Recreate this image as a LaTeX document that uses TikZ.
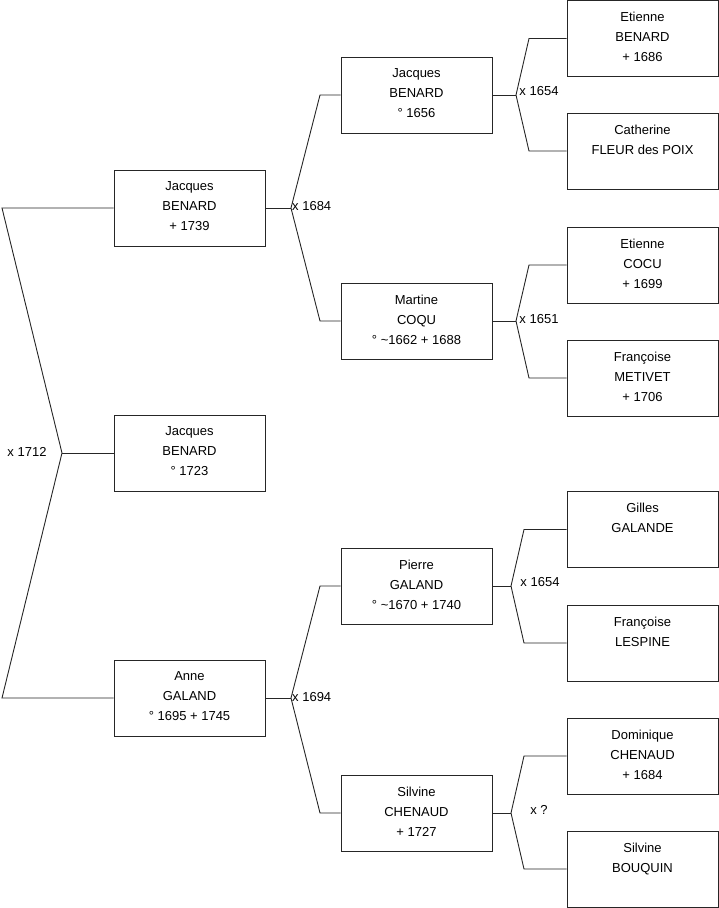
\documentclass[tikz,border=0pt]{standalone}
\usepackage{fontspec}
\setmainfont{Liberation Sans}
\begin{document}
\begin{tikzpicture}[x=1pt,y=-1pt,
  pbox/.style={draw=black!85,line width=0.9pt,minimum width=151pt,minimum height=76pt,inner sep=0pt,align=center,text depth=3pt,font=\fontsize{13}{20}\selectfont},
  conn/.style={draw=black!85,line width=0.9pt},
  lbl/.style={inner sep=0pt,font=\fontsize{13}{15}\selectfont}]
\useasboundingbox (0,0) rectangle (719,908);
% generation 1
\node[pbox] (jb1739) at (189.5,208) {Jacques\\BENARD\\+ 1739};
\node[pbox] (jb1723) at (189.5,453) {Jacques\\BENARD\\° 1723};
\node[pbox] (ag) at (189.5,698) {Anne\\GALAND\\° 1695 + 1745};
% generation 2
\node[pbox] (jb1656) at (416.5,95) {Jacques\\BENARD\\° 1656};
\node[pbox] (mc) at (416.5,321) {Martine\\COQU\\° \textasciitilde1662 + 1688};
\node[pbox] (pg) at (416.5,586) {Pierre\\GALAND\\° \textasciitilde1670 + 1740};
\node[pbox] (sc) at (416.5,813) {Silvine\\CHENAUD\\+ 1727};
% generation 3
\node[pbox] (eb) at (642.5,38.5) {Etienne\\BENARD\\+ 1686};
\node[pbox] (cf) at (642.5,151) {Catherine\\FLEUR des POIX\\\mbox{}};
\node[pbox] (ec) at (642.5,265) {Etienne\\COCU\\+ 1699};
\node[pbox] (fm) at (642.5,378) {Françoise\\METIVET\\+ 1706};
\node[pbox] (gg) at (642.5,529.5) {Gilles\\GALANDE\\\mbox{}};
\node[pbox] (fl) at (642.5,643) {Françoise\\LESPINE\\\mbox{}};
\node[pbox] (dc) at (642.5,756) {Dominique\\CHENAUD\\+ 1684};
\node[pbox] (sb) at (642.5,869) {Silvine\\BOUQUIN\\\mbox{}};
% root fork
\coordinate (r1) at (2,208);
\coordinate (r2) at (62,453);
\coordinate (r3) at (2,698);
\draw[conn] (jb1739.west) -- (r1) -- (r2) -- (r3) -- (ag.west);
\draw[conn] (r2) -- (jb1723.west);
\node[lbl] (m1712) at (27,451.5) {x 1712};
% fork 1684
\coordinate (j1) at (291,208);
\coordinate (j1a) at (320,95);
\coordinate (j1b) at (320,321);
\draw[conn] (jb1739.east) -- (j1);
\draw[conn] (jb1656.west) -- (j1a) -- (j1) -- (j1b) -- (mc.west);
\node[lbl,anchor=west] (m1684) at (292,206.5) {x 1684};
% fork 1694
\coordinate (j2) at (291,698);
\coordinate (j2a) at (320,586);
\coordinate (j2b) at (320,813);
\draw[conn] (ag.east) -- (j2);
\draw[conn] (pg.west) -- (j2a) -- (j2) -- (j2b) -- (sc.west);
\node[lbl,anchor=west] (m1694) at (292,697.5) {x 1694};
% fork 1654 (top)
\coordinate (j3) at (516,95);
\coordinate (j3a) at (529,38.5);
\coordinate (j3b) at (529,151);
\draw[conn] (jb1656.east) -- (j3);
\draw[conn] (eb.west) -- (j3a) -- (j3) -- (j3b) -- (cf.west);
\node[lbl] (m1654a) at (539,91.5) {x 1654};
% fork 1651
\coordinate (j4) at (516,321);
\coordinate (j4a) at (529,265);
\coordinate (j4b) at (529,378);
\draw[conn] (mc.east) -- (j4);
\draw[conn] (ec.west) -- (j4a) -- (j4) -- (j4b) -- (fm.west);
\node[lbl] (m1651) at (539,319.5) {x 1651};
% fork 1654 (lower)
\coordinate (j5) at (511,586);
\coordinate (j5a) at (524,529.5);
\coordinate (j5b) at (524,643);
\draw[conn] (pg.east) -- (j5);
\draw[conn] (gg.west) -- (j5a) -- (j5) -- (j5b) -- (fl.west);
\node[lbl] (m1654b) at (540,582.5) {x 1654};
% fork ?
\coordinate (j6) at (511,813);
\coordinate (j6a) at (524,756);
\coordinate (j6b) at (524,869);
\draw[conn] (sc.east) -- (j6);
\draw[conn] (dc.west) -- (j6a) -- (j6) -- (j6b) -- (sb.west);
\node[lbl] (mq) at (539,809.5) {x ?};
\end{tikzpicture}
\end{document}
